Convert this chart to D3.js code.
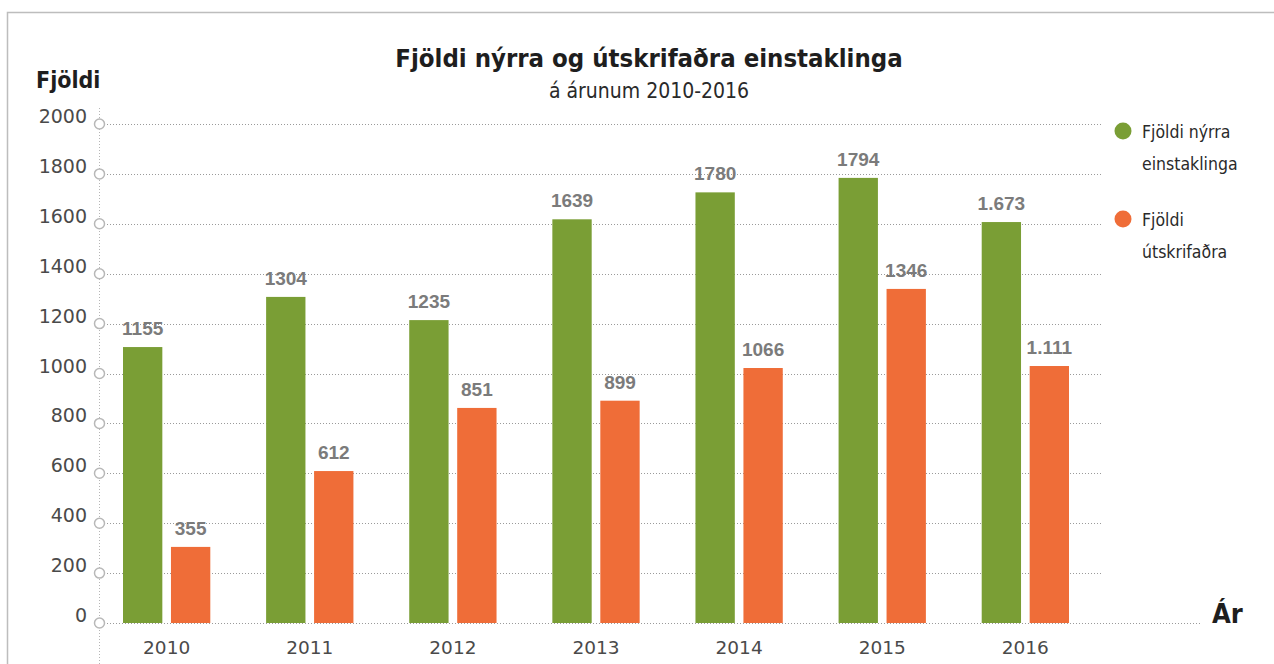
<!DOCTYPE html>
<html>
<head>
<meta charset="utf-8">
<script src="https://cdn.jsdelivr.net/npm/d3@7"></script>
<style>
  body { margin: 0; background: #fff; }
  svg { display: block; }
  .cond { font-family: 'DejaVu Sans Condensed', 'DejaVu Sans', sans-serif; font-stretch: condensed; }
</style>
</head>
<body>
<div id="chart"></div>
<script>
const width = 1274;
const height = 664;

// data
const years = ["2010", "2011", "2012", "2013", "2014", "2015", "2016"];
const seriesNames = ["Fjöldi nýrra einstaklinga", "Fjöldi útskrifaðra"];
const newValues = [1106, 1307, 1214, 1618, 1726, 1784, 1607];
const dischargedValues = [305, 609, 862, 891, 1022, 1339, 1030];
const newLabels = ["1155", "1304", "1235", "1639", "1780", "1794", "1.673"];
const dischargedLabels = ["355", "612", "851", "899", "1066", "1346", "1.111"];
const yTicks = [0, 200, 400, 600, 800, 1000, 1200, 1400, 1600, 1800, 2000];

const colors = ["#7a9e35", "#ef6d38"];

const svg = d3.select("#chart").append("svg")
  .attr("width", width)
  .attr("height", height);

// frame
svg.append("path")
  .attr("d", `M7.5,${height} V12.5 H${width}`)
  .attr("fill", "none")
  .attr("stroke", "#bdbdbd")
  .attr("stroke-width", 1.5);

const x = d3.scaleBand()
  .domain(years)
  .range([123, 1069])
  .paddingInner(0.39)
  .paddingOuter(0);

const xSub = d3.scaleBand()
  .domain([0, 1])
  .range([0, x.bandwidth()])
  .paddingInner(0.18);

const y = d3.scaleLinear()
  .domain([0, 2000])
  .range([623, 124]);

// gridlines
svg.append("g")
  .selectAll("line")
  .data(yTicks)
  .join("line")
    .attr("x1", 104)
    .attr("x2", d => d === 0 ? 1200 : 1103)
    .attr("y1", d => Math.round(y(d)) + 0.5)
    .attr("y2", d => Math.round(y(d)) + 0.5)
    .attr("stroke", "#9a9a9a")
    .attr("stroke-dasharray", "1,2");

// vertical axis line
svg.append("line")
  .attr("x1", 99.5).attr("x2", 99.5)
  .attr("y1", 108).attr("y2", 664)
  .attr("stroke", "#b5b5b5")
  .attr("stroke-dasharray", "1,2");

// bars
const groups = svg.append("g")
  .selectAll("g")
  .data(years)
  .join("g")
    .attr("transform", d => `translate(${x(d)},0)`);

const rows = years.map((yr, i) => [
  {s: 0, v: newValues[i], label: newLabels[i]},
  {s: 1, v: dischargedValues[i], label: dischargedLabels[i]}
]);

groups.selectAll("rect")
  .data((d, i) => rows[i])
  .join("rect")
    .attr("x", d => xSub(d.s))
    .attr("y", d => y(d.v))
    .attr("width", xSub.bandwidth())
    .attr("height", d => y(0) - y(d.v))
    .attr("fill", d => colors[d.s]);

groups.selectAll("text")
  .data((d, i) => rows[i])
  .join("text")
    .attr("x", d => xSub(d.s) + xSub.bandwidth() / 2)
    .attr("y", d => y(d.v) - 12)
    .attr("text-anchor", "middle")
    .attr("font-family", "'Liberation Sans', Arial, sans-serif")
    .attr("font-weight", "bold")
    .attr("font-size", 19)
    .attr("fill", "#7b7b7b")
    .text(d => d.label);

// y axis ticks: circles + labels
const yAxis = svg.append("g");
yAxis.selectAll("circle")
  .data(yTicks)
  .join("circle")
    .attr("cx", 99.5)
    .attr("cy", d => y(d))
    .attr("r", 5)
    .attr("fill", "#fff")
    .attr("stroke", "#b8b8b8")
    .attr("stroke-width", 1.5);

yAxis.selectAll("text")
  .data(yTicks)
  .join("text")
    .attr("x", 87)
    .attr("y", d => y(d) - 1)
    .attr("text-anchor", "end")
    .attr("font-family", "'DejaVu Sans', sans-serif")
    .attr("font-size", 19)
    .attr("fill", "#4a4a4a")
    .text(d => d);

// x axis labels
const xAxis = g => g
  .attr("transform", `translate(0,${y(0)})`)
  .call(d3.axisBottom(x).tickSize(0).tickPadding(18))
  .call(g => g.select(".domain").remove())
  .call(g => g.selectAll("text")
    .attr("font-family", "'DejaVu Sans', sans-serif")
    .attr("font-size", 18.5)
    .attr("fill", "#4a4a4a"));

svg.append("g").call(xAxis);

// titles
svg.append("text")
  .attr("class", "cond")
  .attr("x", 649)
  .attr("y", 67)
  .attr("text-anchor", "middle")
  .attr("font-weight", "bold")
  .attr("font-size", 25.5)
  .attr("fill", "#1e1e1e")
  .text("Fjöldi nýrra og útskrifaðra einstaklinga");

svg.append("text")
  .attr("class", "cond")
  .attr("x", 649)
  .attr("y", 98)
  .attr("text-anchor", "middle")
  .attr("font-size", 21)
  .attr("fill", "#2a2a2a")
  .text("á árunum 2010-2016");

svg.append("text")
  .attr("class", "cond")
  .attr("x", 36)
  .attr("y", 88)
  .attr("font-weight", "bold")
  .attr("font-size", 23)
  .attr("fill", "#1e1e1e")
  .text("Fjöldi");

svg.append("text")
  .attr("class", "cond")
  .attr("x", 1212)
  .attr("y", 623)
  .attr("font-weight", "bold")
  .attr("font-size", 27)
  .attr("fill", "#1e1e1e")
  .text("Ár");

// legend
const legendLines = [["Fjöldi nýrra", "einstaklinga"], ["Fjöldi", "útskrifaðra"]];
const legend = svg.append("g")
  .selectAll("g")
  .data(seriesNames)
  .join("g")
    .attr("transform", (d, i) => `translate(1123,${131 + i * 88})`);

legend.append("circle")
  .attr("r", 8.5)
  .attr("fill", (d, i) => colors[i]);

legend.append("text")
  .attr("class", "cond")
  .attr("x", 19)
  .attr("y", 7)
  .attr("font-size", 17.5)
  .attr("fill", "#2a2a2a")
  .selectAll("tspan")
  .data((d, i) => legendLines[i])
  .join("tspan")
    .attr("x", 19)
    .attr("dy", (d, j) => j === 0 ? 0 : 32)
    .text(d => d);
</script>
</body>
</html>
